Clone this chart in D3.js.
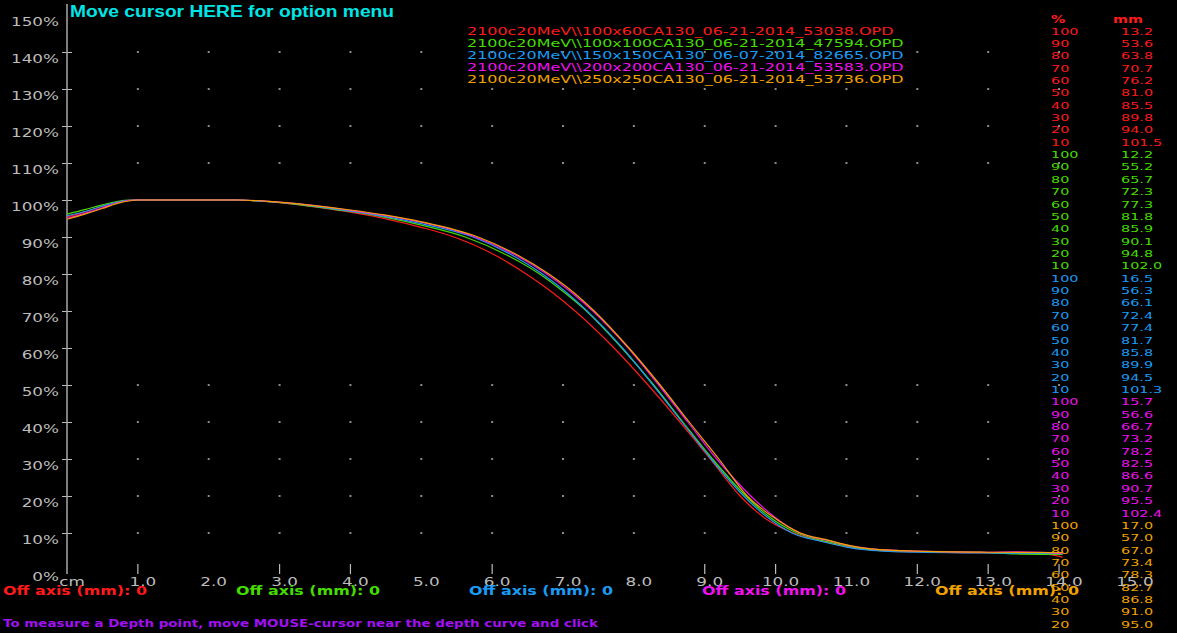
<!DOCTYPE html>
<html>
<head>
<meta charset="utf-8">
<script src="https://cdn.jsdelivr.net/npm/d3@7"></script>
<style>
  body { margin: 0; background: #fff; }
  svg { display: block; background: #000; }
  text { font-family: "DejaVu Sans", sans-serif; }
</style>
</head>
<body>
<script>
// depth dose curves (depth in cm, dose in %)
var fileNames = [
    "2100c20MeV\\\\100x60CA130_06-21-2014_53038.OPD",
    "2100c20MeV\\\\100x100CA130_06-21-2014_47594.OPD",
    "2100c20MeV\\\\150x150CA130_06-07-2014_82665.OPD",
    "2100c20MeV\\\\200x200CA130_06-21-2014_53583.OPD",
    "2100c20MeV\\\\250x250CA130_06-21-2014_53736.OPD"
];

var curve100x60 = [[0,95.4],[0.25,96.8],[0.5,98.3],[0.7,99.4],[0.95,100],[2.4,100],[2.8,99.6],[3.2,98.9],[3.7,97.6],[4.0,96.7],[4.5,94.9],[5.0,92.6],[5.46,90],[6.05,85],[6.48,80],[6.85,75],[7.17,70],[7.72,60],[8.20,50],[8.65,40],[9.08,30],[9.50,20],[9.85,14],[10.25,10],[10.7,7.6],[11.0,6.3],[11.3,5.5],[11.6,5.1],[12.0,4.9],[13.0,4.6],[13.8,4.3],[14.05,3.5]];
var curve100x100 = [[0,96.2],[0.25,97.4],[0.5,98.7],[0.7,99.6],[0.9,100],[2.4,100],[2.8,99.6],[3.2,98.9],[3.7,97.7],[4.0,96.9],[4.5,95.3],[5.0,93.2],[5.62,90],[6.22,85],[6.67,80],[7.02,75],[7.33,70],[7.83,60],[8.28,50],[8.69,40],[9.11,30],[9.58,20],[9.9,14.5],[10.30,10],[10.7,7.8],[11.0,6.5],[11.3,5.6],[11.6,5.2],[12.0,5.0],[13.0,4.7],[13.5,4.3],[14.05,4.2]];
var curve150x150 = [[0,95.7],[0.25,96.9],[0.5,98.3],[0.7,99.4],[0.95,100],[2.4,100],[2.8,99.6],[3.2,99.0],[3.7,97.8],[4.0,97.0],[4.5,95.5],[5.0,93.6],[5.73,90],[6.29,85],[6.71,80],[7.05,75],[7.34,70],[7.84,60],[8.27,50],[8.68,40],[9.09,30],[9.55,20],[9.88,14.3],[10.23,10],[10.65,7.7],[11.0,6.2],[11.3,5.4],[11.6,5.0],[12.0,4.8],[13.0,4.6],[14.05,4.4]];
var curve200x200 = [[0,95.0],[0.25,96.4],[0.5,97.9],[0.7,99.2],[0.95,100],[2.4,100],[2.8,99.7],[3.2,99.1],[3.7,98.0],[4.0,97.2],[4.5,95.8],[5.0,94.0],[5.76,90],[6.34,85],[6.77,80],[7.12,75],[7.42,70],[7.92,60],[8.35,50],[8.76,40],[9.17,30],[9.65,20],[9.98,14.4],[10.34,10],[10.75,7.9],[11.05,6.5],[11.35,5.7],[11.7,5.3],[12.0,5.1],[13.0,4.8],[13.4,4.9],[14.05,4.5]];
var curve250x250 = [[0,94.8],[0.25,96.2],[0.5,97.7],[0.7,99.0],[1.0,100],[2.4,100],[2.8,99.7],[3.2,99.1],[3.7,98.0],[4.0,97.3],[4.5,95.9],[5.0,94.1],[5.80,90],[6.37,85],[6.80,80],[7.15,75],[7.44,70],[7.93,60],[8.37,50],[8.78,40],[9.20,30],[9.60,20],[9.95,14.5],[10.35,10],[10.75,8.0],[11.05,6.6],[11.35,5.7],[11.7,5.3],[12.0,5.1],[13.0,4.8],[14.05,4.7]];

// depth (mm) at each dose level, as listed in the side table
var pctLevels = [100, 90, 80, 70, 60, 50, 40, 30, 20, 10];
var mm100x60  = [13.2, 53.6, 63.8, 70.7, 76.2, 81.0, 85.5, 89.8, 94.0, 101.5];
var mm100x100 = [12.2, 55.2, 65.7, 72.3, 77.3, 81.8, 85.9, 90.1, 94.8, 102.0];
var mm150x150 = [16.5, 56.3, 66.1, 72.4, 77.4, 81.7, 85.8, 89.9, 94.5, 101.3];
var mm200x200 = [15.7, 56.6, 66.7, 73.2, 78.2, 82.5, 86.6, 90.7, 95.5, 102.4];
var mm250x250 = [17.0, 57.0, 67.0, 73.4, 78.3, 82.7, 86.8, 91.0, 95.0, 102.5];

var offAxis = [0, 0, 0, 0, 0];

var yTicks = [0, 10, 20, 30, 40, 50, 60, 70, 80, 90, 100, 110, 120, 130, 140, 150];
var xLabels = ["cm", "1.0", "2.0", "3.0", "4.0", "5.0", "6.0", "7.0", "8.0", "9.0", "10.0", "11.0", "12.0", "13.0", "14.0", "15.0"];
var xTickMarks = [1, 3, 4, 6, 9, 10, 12, 13, 14];
var gridRows = [10, 20, 30, 40, 50, 110, 120, 130, 140];
var gridCols = [1, 2, 3, 4, 5, 6, 7, 8, 9, 10, 11, 12, 13, 14];

var colors = ["#ff1a1a", "#44dd00", "#1a9cf5", "#f010f0", "#f2a200"];
var gray = "#bcbcbc";

var curves = [curve100x60, curve100x100, curve150x150, curve200x200, curve250x250];
var mmTable = [mm100x60, mm100x100, mm150x150, mm200x200, mm250x250];

var width = 1177, height = 633;

var svg = d3.select("body").append("svg")
    .attr("width", width)
    .attr("height", height);

var x = d3.scaleLinear().domain([0, 15]).range([67, 67 + 15 * 70.86]);
var y = d3.scaleLinear().domain([0, 150]).range([570, 15]);

// old-style screen font is wide, so stretch text sideways
function stretch(sel, k){
    sel.each(function(){
        var w = this.getComputedTextLength();
        d3.select(this).attr("textLength", w * k).attr("lengthAdjust", "spacingAndGlyphs");
    });
}

// grid dots
var dots = [];
gridRows.forEach(function(r){ gridCols.forEach(function(c){ dots.push([c, r]); }); });
svg.append("g").selectAll("rect")
    .data(dots).enter().append("rect")
    .attr("x", function(d){ return x(d[0]) - 1; })
    .attr("y", function(d){ return y(d[1]) - 1; })
    .attr("width", 2).attr("height", 2)
    .attr("fill", "#8a8a8a");

// side table (drawn before the axis labels, they overlap at the bottom)
var table = svg.append("g");
table.append("text").attr("x", 1051).attr("y", 23).attr("fill", colors[0])
    .style("font-size", "11px").style("font-weight", "bold").text("%").call(stretch, 1.3);
table.append("text").attr("x", 1113).attr("y", 23).attr("fill", colors[0])
    .style("font-size", "11px").style("font-weight", "bold").text("mm").call(stretch, 1.3);

var rows = [];
mmTable.forEach(function(list, s){
    list.forEach(function(v, i){ rows.push({s: s, pct: pctLevels[i], mm: v}); });
});
var rowY = function(i){ return 34.5 + i * 12.36; };
table.selectAll(".pct").data(rows).enter().append("text")
    .attr("class", "pct")
    .attr("x", 1051).attr("y", function(d, i){ return rowY(i); })
    .attr("fill", function(d){ return colors[d.s]; })
    .style("font-size", "9px")
    .text(function(d){ return d.pct; })
    .call(stretch, 1.6);
table.selectAll(".mm").data(rows).enter().append("text")
    .attr("class", "mm")
    .attr("x", 1121).attr("y", function(d, i){ return rowY(i); })
    .attr("fill", function(d){ return colors[d.s]; })
    .style("font-size", "9px")
    .text(function(d){ return d.mm.toFixed(1); })
    .call(stretch, 1.6);

// y axis
var yAxis = d3.axisLeft(y).tickValues(yTicks.filter(function(d){ return d > 0 && d < 150; }))
    .tickSize(5).tickFormat("");
var yg = svg.append("g").attr("transform", "translate(" + x(0) + ",0)").call(yAxis);
yg.select(".domain").remove();
yg.selectAll(".tick line").attr("x1", -5).attr("x2", 5).attr("stroke", gray);
svg.append("line")
    .attr("x1", x(0)).attr("x2", x(0))
    .attr("y1", y(153)).attr("y2", y(-1.1))
    .attr("stroke", "#a8a8a8").attr("stroke-width", 1.5);

svg.append("g").selectAll("text")
    .data(yTicks).enter().append("text")
    .attr("x", x(0) - 8)
    .attr("y", function(d){ return y(d) + 11; })
    .attr("text-anchor", "end")
    .attr("fill", gray)
    .style("font-size", "12px")
    .text(function(d){ return d + "%"; })
    .call(stretch, 1.4);

// x axis tick marks and labels
svg.append("g").selectAll("line")
    .data(xTickMarks).enter().append("line")
    .attr("x1", function(d){ return x(d); }).attr("x2", function(d){ return x(d); })
    .attr("y1", y(1.6)).attr("y2", y(-1.1))
    .attr("stroke", gray).attr("stroke-width", 1.2);

svg.append("g").selectAll("text")
    .data(xLabels).enter().append("text")
    .attr("x", function(d, i){ return x(i) + 5; })
    .attr("y", 586)
    .attr("text-anchor", "middle")
    .attr("fill", gray)
    .style("font-size", "12px")
    .text(function(d){ return d; })
    .call(stretch, 1.4);

// depth dose curves
var line = d3.line()
    .x(function(d){ return x(d[0]); })
    .y(function(d){ return y(d[1]); })
    .curve(d3.curveMonotoneX);

svg.append("g").selectAll("path")
    .data(curves).enter().append("path")
    .attr("d", line)
    .attr("fill", "none")
    .attr("stroke", function(d, i){ return colors[i]; })
    .attr("stroke-width", 1.2);

// file legend
svg.append("g").selectAll("text")
    .data(fileNames).enter().append("text")
    .attr("x", 467)
    .attr("y", function(d, i){ return 35 + i * 12.1; })
    .attr("fill", function(d, i){ return colors[i]; })
    .style("font-size", "11px")
    .text(function(d){ return d; })
    .call(stretch, 1.45);

// title / menu hint
svg.append("text")
    .attr("x", 70).attr("y", 17)
    .attr("fill", "#00e5e5")
    .style("font-family", "'Liberation Sans', Arial, sans-serif")
    .style("font-size", "16px").style("font-weight", "bold")
    .attr("textLength", 324).attr("lengthAdjust", "spacingAndGlyphs")
    .text("Move cursor HERE for option menu");

// off axis labels
svg.append("g").selectAll("text")
    .data(offAxis).enter().append("text")
    .attr("x", function(d, i){ return 3 + i * 233; })
    .attr("y", 595)
    .attr("fill", function(d, i){ return colors[i]; })
    .style("font-size", "12px").style("font-weight", "bold")
    .attr("textLength", 144).attr("lengthAdjust", "spacingAndGlyphs")
    .text(function(d){ return "Off axis (mm): " + d; });

// bottom hint
svg.append("text")
    .attr("x", 3).attr("y", 627)
    .attr("fill", "#a010f0")
    .style("font-size", "11px").style("font-weight", "bold")
    .attr("textLength", 595).attr("lengthAdjust", "spacingAndGlyphs")
    .text("To measure a Depth point, move MOUSE-cursor near the depth curve and click");
</script>
</body>
</html>
